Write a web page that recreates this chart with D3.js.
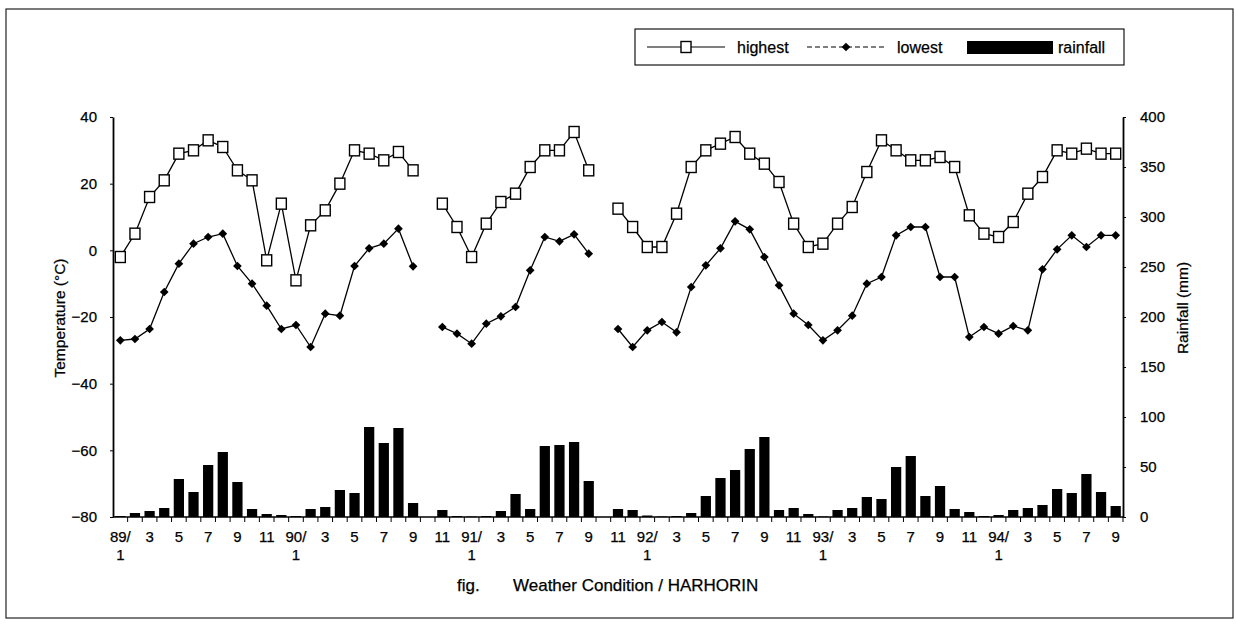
<!DOCTYPE html>
<html><head><meta charset="utf-8">
<script src="https://cdn.jsdelivr.net/npm/d3@7"></script>
<style>
body{margin:0;background:#fff}
text{font-family:"Liberation Sans",Arial,sans-serif;fill:#000;stroke:#000;stroke-width:0.25px}
</style>
</head><body><svg id="c" width="1236" height="628"></svg>
<script>
// ---------- data ----------
const months = [
 "89/1","89/2","89/3","89/4","89/5","89/6","89/7","89/8","89/9","89/10","89/11","89/12",
 "90/1","90/2","90/3","90/4","90/5","90/6","90/7","90/8","90/9","90/10","90/11","90/12",
 "91/1","91/2","91/3","91/4","91/5","91/6","91/7","91/8","91/9","91/10","91/11","91/12",
 "92/1","92/2","92/3","92/4","92/5","92/6","92/7","92/8","92/9","92/10","92/11","92/12",
 "93/1","93/2","93/3","93/4","93/5","93/6","93/7","93/8","93/9","93/10","93/11","93/12",
 "94/1","94/2","94/3","94/4","94/5","94/6","94/7","94/8","94/9"];
const highest = [
 -2, 5, 16, 21, 29, 30, 33, 31, 24, 21, -3, 14,
 -9, 7.5, 12, 20, 30, 29, 27, 29.5, 24, null, 14, 7,
 -2, 8, 14.5, 17, 25, 30, 30, 35.5, 24, null, 12.5, 7,
 1, 1, 11, 25, 30, 32, 34, 29, 26, 20.5, 8, 1,
 2, 8, 13, 23.5, 33, 30, 27, 27, 28, 25, 10.5, 5,
 4, 8.5, 17, 22, 30, 29, 30.5, 29, 29];
const lowest = [
 -27, -26.6, -23.6, -12.5, -4, 2, 4, 5, -4.7, -10, -16.6, -23.6,
 -22.4, -29, -19, -19.6, -4.7, 0.6, 2, 6.5, -4.8, null, -23, -25,
 -28, -22, -19.8, -17, -6, 4, 2.7, 4.8, -1, null, -23.6, -29,
 -24, -21.5, -24.6, -11, -4.5, 0.6, 8.7, 6.3, -2, -10.5, -19, -22.4,
 -27, -24, -19.6, -10, -8, 4.5, 7, 7, -8, -8, -26, -23,
 -25, -22.7, -24, -5.7, 0.3, 4.5, 1, 4.5, 4.5];
const rainfall = [
 1, 4, 6, 9, 38, 25, 52, 65, 35, 8, 3, 2,
 1, 8, 10, 27, 24, 90, 74, 89, 14, null, 7, 1,
 0.5, 1, 6, 23, 8, 71, 72, 75, 36, null, 8, 7,
 1.5, 0.5, 1, 4, 21, 39, 47, 68, 80, 7, 9, 3,
 0.5, 7, 9, 20, 18, 50, 61, 21, 31, 8, 5, 1,
 2, 7, 9, 12, 28, 24, 43, 25, 11];
const tempTicks = [-80, -60, -40, -20, 0, 20, 40];
const rainTicks = [0, 50, 100, 150, 200, 250, 300, 350, 400];
const legendLabels = ["highest", "lowest", "rainfall"];
const leftTitle = "Temperature (°C)";
const rightTitle = "Rainfall (mm)";
const captionLabel = "fig.";
const captionText = "Weather Condition / HARHORIN";

// ---------- layout ----------
const svg = d3.select("#c");
const L = 113, R = 1123, T = 117, B = 517;

const x = d3.scaleBand().domain(months).range([L, R]).paddingInner(0.3).paddingOuter(0.15);
const cx = m => x(m) + x.bandwidth() / 2;
const yT = d3.scaleLinear().domain([-80, 40]).range([B, T]);
const yR = d3.scaleLinear().domain([0, 400]).range([B, T]);

// outer frame
svg.append("rect").attr("x", 6).attr("y", 9).attr("width", 1227).attr("height", 609)
  .attr("fill", "none").attr("stroke", "#222").attr("stroke-width", 1.2);

// bars
svg.append("g").selectAll("rect").data(rainfall.map((v, i) => ({m: months[i], v})).filter(d => d.v != null))
  .join("rect")
  .attr("x", d => x(d.m)).attr("width", x.bandwidth())
  .attr("y", d => yR(d.v)).attr("height", d => B - yR(d.v))
  .attr("fill", "#000");

// axes
const axL = svg.append("g").attr("transform", `translate(${L},0)`)
  .call(d3.axisLeft(yT).tickValues(tempTicks).tickSize(3).tickSizeOuter(0).tickPadding(13));
const axR = svg.append("g").attr("transform", `translate(${R},0)`)
  .call(d3.axisRight(yR).tickValues(rainTicks).tickSize(3).tickSizeOuter(0).tickPadding(14));
[axL, axR].forEach(g => {
  g.select(".domain").attr("stroke", "#000").attr("stroke-width", 1.8);
  g.selectAll(".tick line").attr("stroke", "#000");
  g.selectAll(".tick text").attr("font-size", 15).attr("font-family", null);
});

// x axis
const gx = svg.append("g");
gx.append("line").attr("x1", L).attr("x2", R).attr("y1", B).attr("y2", B)
  .attr("stroke", "#000").attr("stroke-width", 1.5);
const step = x.step();
gx.selectAll("line.tk").data(months).join("line").attr("class", "tk")
  .attr("x1", m => cx(m) + step / 2).attr("x2", m => cx(m) + step / 2)
  .attr("y1", B).attr("y2", B + 5).attr("stroke", "#000").attr("stroke-width", 1);
const lab = gx.selectAll("text").data(months.filter(m => +m.split("/")[1] % 2 === 1))
  .join("text").attr("text-anchor", "middle").attr("font-size", 15)
  .attr("x", m => cx(m)).attr("y", 542);
lab.each(function(m) {
  const [yy, mm] = m.split("/");
  const t = d3.select(this);
  if (mm === "1") {
    t.append("tspan").attr("x", cx(m)).text(yy + "/");
    t.append("tspan").attr("x", cx(m)).attr("dy", 18).text(mm);
  } else t.text(mm);
});

// lines
const mkLine = yScale => d3.line().defined(d => d != null)
  .x((d, i) => cx(months[i])).y(d => yScale(d));
svg.append("path").attr("d", mkLine(yT)(highest)).attr("fill", "none")
  .attr("stroke", "#000").attr("stroke-width", 1.3);
svg.append("path").attr("d", mkLine(yT)(lowest)).attr("fill", "none")
  .attr("stroke", "#000").attr("stroke-width", 1.3);

// markers
svg.append("g").selectAll("rect").data(highest.map((v, i) => ({m: months[i], v})).filter(d => d.v != null))
  .join("rect").attr("x", d => cx(d.m) - 5).attr("y", d => yT(d.v) - 5.5)
  .attr("width", 10).attr("height", 11).attr("fill", "#fff").attr("stroke", "#000").attr("stroke-width", 1.4);
const diamond = d3.symbol(d3.symbolSquare, 38);
svg.append("g").selectAll("path").data(lowest.map((v, i) => ({m: months[i], v})).filter(d => d.v != null))
  .join("path").attr("d", diamond())
  .attr("transform", d => `translate(${cx(d.m)},${yT(d.v)}) rotate(45)`).attr("fill", "#000");

// legend
const lg = svg.append("g");
lg.append("rect").attr("x", 635).attr("y", 29).attr("width", 489).attr("height", 36)
  .attr("fill", "#fff").attr("stroke", "#000").attr("stroke-width", 1.1);
const ly = 47;
lg.append("line").attr("x1", 647).attr("x2", 725).attr("y1", ly).attr("y2", ly).attr("stroke", "#000").attr("stroke-width", 1.2);
lg.append("rect").attr("x", 681).attr("y", ly - 5.5).attr("width", 10).attr("height", 11)
  .attr("fill", "#fff").attr("stroke", "#000").attr("stroke-width", 1.4);
lg.append("text").attr("x", 737).attr("y", ly).attr("dy", "0.35em").attr("font-size", 16).text(legendLabels[0]);
lg.append("line").attr("x1", 807).attr("x2", 885).attr("y1", ly).attr("y2", ly).attr("stroke", "#000")
  .attr("stroke-width", 1.2).attr("stroke-dasharray", "5,3");
lg.append("path").attr("d", diamond()).attr("transform", `translate(846,${ly}) rotate(45)`).attr("fill", "#000");
lg.append("text").attr("x", 897).attr("y", ly).attr("dy", "0.35em").attr("font-size", 16).text(legendLabels[1]);
lg.append("rect").attr("x", 967).attr("y", ly - 6).attr("width", 86).attr("height", 13).attr("fill", "#000");
lg.append("text").attr("x", 1058).attr("y", ly).attr("dy", "0.35em").attr("font-size", 16).text(legendLabels[2]);

// axis titles
svg.append("text").attr("transform", "translate(60,318) rotate(-90)").attr("text-anchor", "middle")
  .attr("dy", "0.35em").attr("font-size", 15.5).text(leftTitle);
svg.append("text").attr("transform", "translate(1183,308) rotate(-90)").attr("text-anchor", "middle")
  .attr("dy", "0.35em").attr("font-size", 15.5).text(rightTitle);

// caption
svg.append("text").attr("x", 457).attr("y", 591).attr("font-size", 17).text(captionLabel);
svg.append("text").attr("x", 513).attr("y", 591).attr("font-size", 17).text(captionText);
</script>
</body></html>
